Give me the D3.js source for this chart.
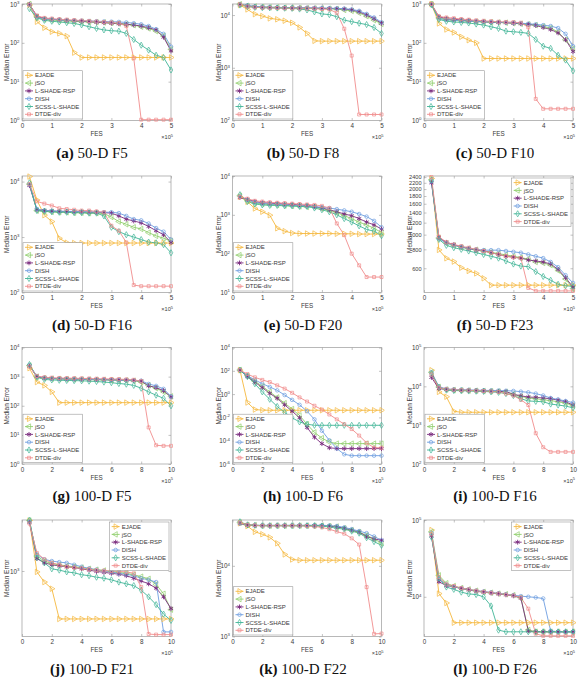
<!DOCTYPE html>
<html><head><meta charset="utf-8">
<script src="https://cdn.jsdelivr.net/npm/d3@7"></script>
<style>body{margin:0;background:#fff} svg{display:block}</style>
</head><body>
<svg id="c" width="578" height="680"></svg>
<script>
// ---------------- data ----------------
const methods = ["EJADE","jSO","L-SHADE-RSP","DISH","SCSS-L-SHADE","DTDE-div"];
const colors  = ["#f5b83d","#8fce6c","#7b2c7f","#6d9de0","#40b496","#f08c8c"];
const fes50  = [0.25,0.5,0.75,1,1.25,1.5,1.75,2,2.25,2.5,2.75,3,3.25,3.5,3.75,4,4.25,4.5,4.75,5];
const fes100 = [0.5,1,1.5,2,2.5,3,3.5,4,4.5,5,5.5,6,6.5,7,7.5,8,8.5,9,9.5,10];
const xTicks50  = [0,1,2,3,4,5];
const xTicks100 = [0,2,4,6,8,10];
const captions = ["50-D F5","50-D F8","50-D F10","50-D F16","50-D F20","50-D F23",
                  "100-D F5","100-D F6","100-D F16","100-D F21","100-D F22","100-D F26"];
const letters = ["a","b","c","d","e","f","g","h","i","j","k","l"];

// series order: EJADE, jSO, L-SHADE-RSP, DISH, SCSS-L-SHADE, DTDE-div
const D50_F5 = [
 [940,350,244,193,175,149,56,42,42,42,42,42,42,42,42,42,42,42,42,42],
 [1000,470,400,385,375,365,355,350,345,340,335,325,315,300,285,260,235,200,150,68],
 [980,490,420,405,395,380,370,360,350,340,330,320,310,300,290,270,245,215,140,62],
 [960,450,410,400,390,380,375,370,365,360,355,350,345,335,320,300,270,225,170,80],
 [760,440,380,360,345,330,315,290,260,235,215,205,200,175,122,87,65,48,42,20],
 [950,500,440,420,405,395,385,375,365,355,345,335,320,270,40,1.05,1.05,1.05,1.05,1.05]
];
const D50_F8 = [
 [15500,12800,10400,9560,8650,8300,7800,7140,5830,4480,3240,3200,3200,3200,3200,3200,3200,3200,3200,3200],
 [16000,15000,14500,14200,14000,14000,13800,13700,13600,13500,13400,13300,13200,13000,12500,12000,11000,9500,8000,6800],
 [15800,14800,14300,14000,13900,13800,13700,13600,13600,13500,13500,13400,13300,13200,13000,12500,11500,10000,8500,7000],
 [16000,15200,14600,14300,14100,14000,13900,13800,13700,13700,13600,13600,13500,13400,13200,12800,12000,10500,9000,7300],
 [15500,14500,14000,13800,13700,13600,13500,13400,13000,12500,11500,10500,10200,9300,8000,7500,7000,6600,5800,4480],
 [16000,14500,14000,13800,13700,13600,13500,13400,13400,13300,13200,13000,12800,11000,5500,1700,130,130,130,130]
];
const D50_F10 = [
 [1000,316,221,185,143,117,100,39.5,39.5,39.5,39.5,39.5,39.5,39.5,39.5,39.5,39.5,39.5,39.5,39.5],
 [1000,440,400,380,370,360,350,345,340,335,330,320,310,300,285,265,240,190,120,70],
 [990,470,420,400,390,375,360,350,340,335,330,320,310,300,280,250,220,180,120,60],
 [980,420,390,380,370,360,355,350,345,340,335,330,320,310,300,285,270,240,170,82],
 [950,400,360,345,335,325,305,287,259,235,200,193,186,175,122,82,72,48,36,19],
 [1000,480,450,430,410,395,380,370,360,350,345,340,330,250,3.6,2,2,2,2,2]
];
const D50_F16 = [
 [12300,4640,2480,1900,950,790,780,780,780,780,780,780,780,780,780,780,780,780,780,780],
 [9000,3000,2900,2850,2800,2800,2750,2750,2700,2700,2650,2300,1900,1700,1500,1400,1200,1050,950,850],
 [8500,3100,3000,2950,2900,2900,2850,2850,2800,2800,2750,2700,2400,2100,1950,1800,1550,1300,1100,800],
 [8800,3200,3000,2950,2900,2900,2900,2850,2850,2800,2800,2800,2700,2400,2100,2000,1750,1450,1250,900],
 [9500,3000,2900,2850,2800,2800,2750,2750,2700,2700,2400,1500,1250,1100,1000,900,810,785,730,520],
 [9000,4400,4000,3700,3300,3200,3100,3000,3000,2900,2800,1600,1300,800,136,130,130,130,130,130]
];
const D50_F20 = [
 [2920,2170,1460,1200,980,450,380,340,330,330,330,330,330,325,325,325,320,320,320,320],
 [3100,2300,2000,1900,1850,1800,1750,1700,1650,1600,1600,1450,1300,1150,950,800,650,550,450,350],
 [2800,2500,2200,2050,2000,1950,1900,1850,1800,1750,1650,1500,1350,1200,1050,950,800,650,550,430],
 [3000,2400,2100,1950,1900,1850,1800,1750,1700,1650,1600,1550,1500,1400,1300,1200,1050,900,700,480],
 [3300,2200,1900,1800,1750,1750,1700,1700,1650,1650,1500,1350,1200,1000,800,650,520,420,380,290],
 [2900,2600,2300,2200,2100,2050,2000,1950,1900,1850,1800,1700,1500,600,300,100,50,25,25,25]
];
const D50_F23 = [
 [2350,793,698,664,605,576,555,515,464,464,464,464,464,464,464,464,464,464,464,464],
 [2300,950,880,850,825,810,795,780,765,750,735,720,705,690,660,650,630,580,510,440],
 [2200,960,890,860,830,810,790,780,760,740,720,710,700,680,670,660,640,590,520,450],
 [2250,940,880,850,830,810,800,790,790,790,780,770,760,740,720,700,660,610,540,480],
 [2300,930,850,820,800,780,760,740,720,700,670,640,620,615,570,530,500,470,460,455],
 [2400,970,890,860,840,820,800,780,760,740,720,710,700,445,425,425,425,425,425,425]
];
const D100_F5 = [
 [1950,650,500,300,128,128,128,128,128,128,128,128,128,128,128,128,128,128,128,128],
 [2400,1000,880,850,830,820,810,800,790,780,770,760,750,740,720,650,500,400,300,210],
 [2300,1000,900,870,850,840,830,820,810,800,790,780,770,760,740,700,480,420,330,200],
 [2500,1050,900,860,840,830,820,810,800,790,780,770,760,750,740,720,560,480,380,210],
 [2600,950,800,770,750,740,730,720,700,680,650,620,580,550,500,400,300,230,180,100],
 [2200,1050,950,920,900,890,880,870,860,850,840,830,820,800,780,700,18,4.4,4.2,4.2]
];
const D100_F6 = [
 [115,0.19,0.047,0.042,0.041,0.041,0.041,0.041,0.041,0.041,0.041,0.041,0.041,0.041,0.041,0.041,0.041,0.041,0.041,0.041],
 [115,38,12.9,4.7,1.55,0.52,0.166,0.052,0.0148,0.0026,5.2e-4,1.66e-4,7.8e-5,5.6e-5,5.6e-5,5.6e-5,5.6e-5,5.6e-5,5.6e-5,5.6e-5],
 [115,31.6,10.7,3.6,1.15,0.44,0.12,0.034,0.0093,0.00138,2.0e-4,5.6e-5,2.5e-5,2.1e-5,2.1e-5,2.1e-5,2.1e-5,2.1e-5,2.1e-5,2.1e-5],
 [115,38,16.6,7.8,4.1,2.1,0.83,0.32,0.12,0.034,0.0068,7.2e-4,1.07e-4,2.1e-5,6.8e-6,5.2e-6,5.2e-6,5.2e-6,5.2e-6,5.2e-6],
 [115,31.6,7.8,1.55,0.36,0.087,0.0275,0.0093,0.0041,0.0026,0.0021,0.0021,0.0021,0.0021,0.0021,0.0021,0.0021,0.0021,0.0021,0.0021],
 [115,52.5,27.5,16.6,10.7,5.6,2.95,1.29,0.52,0.23,0.1,0.047,0.0178,0.0068,0.0026,0.001,2.75e-4,6.5e-5,2.5e-5,2.5e-5]
];
const D100_F16 = [
 [26000,7200,5400,2270,2150,2150,2150,2150,2150,2150,2150,2150,2150,2150,2150,2150,2150,2150,2150,2150],
 [23000,9600,8300,8000,7900,7800,7700,7600,7500,7400,7200,6300,5500,5000,4800,4500,4300,4000,3700,3200],
 [17000,8700,8300,8000,7900,7800,7700,7600,7500,7400,7300,6200,5700,5300,5200,5000,4800,4400,4000,3300],
 [23000,9800,8600,8300,8200,8100,8000,7900,7800,7800,7700,7600,7300,7000,6500,5800,5000,4600,4200,3800],
 [21000,9500,8000,7800,7700,7600,7500,7400,7200,7000,6500,5800,4800,4200,4100,4000,3500,3300,3100,2800],
 [20000,9300,8500,8200,8000,7900,7800,7600,7400,7200,6500,5800,4500,3300,620,270,205,205,205,205]
];
const D100_F21 = [
 [3100,980,780,672,341,341,341,341,341,341,341,341,341,341,341,341,341,341,341,341],
 [3100,1400,1250,1180,1150,1120,1100,1080,1050,1030,1010,990,970,950,920,880,840,740,600,420],
 [3000,1320,1200,1150,1120,1100,1080,1050,1020,990,970,950,930,900,850,800,750,680,560,430],
 [3000,1450,1300,1250,1220,1200,1150,1100,1060,1030,1000,980,950,930,900,850,820,780,255,255],
 [3140,1350,1200,1050,1020,980,960,920,900,870,850,820,780,750,720,650,560,470,380,330],
 [2900,1500,1300,1200,1150,1100,1080,1060,1040,1020,1010,1000,990,980,950,700,243,240,240,240]
];
const D100_F22 = [
 [40000,36500,30300,28000,25300,20800,14500,12300,12000,12000,12000,12000,12000,12000,12000,12000,12000,12000,12000,12000],
 [41000,38000,37500,37000,37000,37000,37000,37000,37000,37000,37000,37000,36500,36000,34000,32000,30000,27000,24000,21000],
 [40000,37500,37000,37000,37000,37000,37000,37000,37000,37000,37000,37000,36500,35500,34000,32000,30000,26000,24000,23000],
 [40000,38000,37500,37500,37500,37500,37500,37500,37500,37500,37500,37500,37000,36500,35000,33000,31000,29000,26000,23000],
 [42000,38000,37500,37000,37000,37000,37000,37000,37000,37000,37000,36500,35500,34000,33000,31000,29000,25000,22000,19500],
 [41000,38000,37500,37000,37000,37000,37000,37000,37000,36500,36000,35000,33000,30500,28500,24500,20000,5000,1090,1100]
];
const D100_F26 = [
 [74000,11000,8300,4600,4600,4600,4600,4600,4600,4600,4600,4600,4600,4600,4600,4600,4600,4600,4600,4600],
 [70000,19000,15000,13800,13000,12500,12000,11600,11300,11000,10800,10500,9700,3700,3500,3500,3500,3500,3500,3500],
 [62000,15700,14000,13500,12800,12300,11800,11500,11200,10900,10600,10300,9600,3600,3500,3500,3500,3500,3500,3500],
 [68000,17000,14500,13500,13000,12500,12000,11700,11400,11100,10800,10500,10200,10000,9800,9500,3600,3500,3500,3500],
 [60000,17500,13400,12500,11500,10900,10700,10000,7600,3680,3500,3500,3500,3500,3500,3500,3500,3500,3500,3500],
 [65000,18000,14500,13800,13000,12500,12000,11600,11300,11000,10700,10400,9800,7000,3300,3100,3100,3100,3100,3100]
];
const yTicksF23 = [600,800,1000,1200,1400,1600,1800,2000,2200,2400];

// ---------------- panel setup ----------------
const panels = [
 {d:D50_F5,  fes:fes50,  xt:xTicks50,  xmax:5,  yd:[1,1000],      yt:[1,10,100,1000], leg:"ll"},
 {d:D50_F8,  fes:fes50,  xt:xTicks50,  xmax:5,  yd:[100,16200],   yt:[100,1000,10000], leg:"ll"},
 {d:D50_F10, fes:fes50,  xt:xTicks50,  xmax:5,  yd:[1,1000],      yt:[1,10,100,1000], leg:"ll"},
 {d:D50_F16, fes:fes50,  xt:xTicks50,  xmax:5,  yd:[100,12600],   yt:[100,1000,10000], leg:"ll"},
 {d:D50_F20, fes:fes50,  xt:xTicks50,  xmax:5,  yd:[10,10000],    yt:[10,100,1000,10000], leg:"ll"},
 {d:D50_F23, fes:fes50,  xt:xTicks50,  xmax:5,  yd:[415,2440],    yt:yTicksF23, plain:true, leg:"ur"},
 {d:D100_F5, fes:fes100, xt:xTicks100, xmax:10, yd:[1,10000],     yt:[1,10,100,1000,10000], leg:"ll"},
 {d:D100_F6, fes:fes100, xt:xTicks100, xmax:10, yd:[1e-6,1e4],    yt:[1e-6,1e-4,1e-2,1,1e2,1e4], leg:"ll"},
 {d:D100_F16,fes:fes100, xt:xTicks100, xmax:10, yd:[100,1e5],     yt:[1e2,1e3,1e4,1e5], leg:"ll"},
 {d:D100_F21,fes:fes100, xt:xTicks100, xmax:10, yd:[230,3140],    yt:[1000], leg:"ur"},
 {d:D100_F22,fes:fes100, xt:xTicks100, xmax:10, yd:[1000,44500],  yt:[1e3,1e4], leg:"ll"},
 {d:D100_F26,fes:fes100, xt:xTicks100, xmax:10, yd:[3040,1e5],    yt:[1e4,1e5], leg:"ur"}
];

const colLeft = [22, 232.5, 424];
const rowTop  = [4, 176, 347.5, 520];
const PW = 149, PH = 116.5;
const yLabX = [6.5, 219, 409.5];
const capX = [92, 303, 495];

const SANS = "Liberation Sans, Arial, sans-serif";
const AX = "#9a9a9a";
const TXT = "#3a3a3a";

const svg = d3.select("#c");
const defs = svg.append("defs");

function markerPath(k, size) {
  const types = [d3.symbolTriangle, d3.symbolTriangle, d3.symbolAsterisk, d3.symbolCircle, d3.symbolDiamond, d3.symbolSquare];
  const sizes = [13, 13, 16, 10, 11, 9];
  return d3.symbol(types[k], sizes[k] * (size || 1))();
}
const markerRot = [90, -90, 0, 0, 0, 0];

function drawMarker(g, k, cx, cy) {
  g.append("path")
    .attr("d", markerPath(k))
    .attr("transform", `translate(${cx},${cy}) rotate(${markerRot[k]})`)
    .attr("fill", "none")
    .attr("stroke", colors[k])
    .attr("stroke-width", k === 2 ? 0.9 : 0.7);
}

panels.forEach((p, i) => {
  const col = i % 3, row = Math.floor(i / 3);
  const L = colLeft[col], T = rowTop[row];
  const x = d3.scaleLinear().domain([0, p.xmax]).range([L, L + PW]);
  const y = d3.scaleLog().domain(p.yd).range([T + PH, T]);
  const g = svg.append("g");

  const cid = "clip" + i;
  defs.append("clipPath").attr("id", cid).append("rect")
    .attr("x", L - 3).attr("y", T - 3).attr("width", PW + 6).attr("height", PH + 6);

  g.append("rect").attr("x", L).attr("y", T).attr("width", PW).attr("height", PH)
    .attr("fill", "#fff").attr("stroke", "none");

  // axes
  const styleAxis = sel => {
    sel.select(".domain").remove();
    sel.selectAll(".tick line").attr("stroke", AX).attr("stroke-width", 0.6);
    sel.selectAll(".tick text").attr("fill", TXT).attr("font-family", SANS).attr("font-size", 6.3);
  };
  g.append("g").attr("transform", `translate(0,${T + PH})`)
    .call(d3.axisBottom(x).tickValues(p.xt).tickSize(-2.5).tickPadding(3.2).tickFormat(d3.format("d")))
    .call(styleAxis);
  g.append("g").attr("transform", `translate(0,${T})`)
    .call(d3.axisTop(x).tickValues(p.xt).tickSize(-2.5).tickFormat(""))
    .call(styleAxis);
  const yl = g.append("g").attr("transform", `translate(${L},0)`)
    .call(d3.axisLeft(y).tickValues(p.yt).tickSize(-2.5).tickPadding(2.5)
      .tickFormat(p.plain ? d3.format("d") : ""))
    .call(styleAxis);
  if (p.plain) yl.selectAll(".tick text").attr("font-size", 5.6);
  g.append("g").attr("transform", `translate(${L + PW},0)`)
    .call(d3.axisRight(y).tickValues(p.yt).tickSize(-2.5).tickFormat(""))
    .call(styleAxis);
  if (!p.plain) {
    yl.selectAll(".tick text").each(function (d) {
      const t = d3.select(this);
      t.text(null);
      t.append("tspan").text("10");
      t.append("tspan").attr("dy", -2.6).attr("font-size", 4.3).text(Math.round(Math.log10(d)));
    });
  }
  g.append("rect").attr("x", L).attr("y", T).attr("width", PW).attr("height", PH)
    .attr("fill", "none").attr("stroke", AX).attr("stroke-width", 0.7);

  // labels
  g.append("text").attr("x", x(p.xmax / 2)).attr("y", T + PH + 15.5)
    .attr("text-anchor", "middle").attr("font-family", SANS).attr("font-size", 6.3)
    .attr("fill", TXT).text("FES");
  const ex = g.append("text").attr("x", L + PW + 2).attr("y", T + PH + 18.5)
    .attr("text-anchor", "end").attr("font-family", SANS).attr("font-size", 5.6).attr("fill", TXT);
  ex.append("tspan").text("×10");
  ex.append("tspan").attr("dy", -2.4).attr("font-size", 4).text("5");
  g.append("text")
    .attr("transform", `translate(${yLabX[col]},${T + PH / 2}) rotate(-90)`)
    .attr("text-anchor", "middle").attr("dy", "0.35em")
    .attr("font-family", SANS).attr("font-size", 6.5).attr("fill", TXT).text("Median Error");

  // series
  const plot = g.append("g").attr("clip-path", `url(#${cid})`);
  const line = d3.line().x((d, j) => x(p.fes[j])).y(d => y(d));
  p.d.forEach((s, k) => {
    plot.append("path").datum(s).attr("d", line)
      .attr("fill", "none").attr("stroke", colors[k]).attr("stroke-width", 0.9);
  });
  p.d.forEach((s, k) => {
    s.forEach((v, j) => drawMarker(plot, k, x(p.fes[j]), y(v)));
  });

  // legend
  const rowH = 7.8;
  const lg = g.append("g");
  const texts = [];
  const tmp = lg.append("g");
  methods.forEach(m => {
    const t = tmp.append("text").attr("font-family", SANS).attr("font-size", 6).text(m);
    texts.push(t.node().getComputedTextLength());
  });
  tmp.remove();
  const boxW = 12.5 + d3.max(texts) + 2.5;
  const boxH = rowH * 6 + 1.5;
  const bx = p.leg === "ll" ? L + 1 : L + PW - boxW - 2;
  const by = p.leg === "ll" ? T + PH - boxH - 1.5 : T + 2;
  lg.append("rect").attr("x", bx).attr("y", by).attr("width", boxW).attr("height", boxH)
    .attr("fill", "#fff").attr("stroke", AX).attr("stroke-width", 0.6);
  methods.forEach((m, k) => {
    const cy = by + 4.6 + k * rowH;
    lg.append("line").attr("x1", bx + 2).attr("x2", bx + 10).attr("y1", cy).attr("y2", cy)
      .attr("stroke", colors[k]).attr("stroke-width", 0.9);
    drawMarker(lg, k, bx + 6, cy);
    lg.append("text").attr("x", bx + 12).attr("y", cy).attr("dy", "0.35em")
      .attr("font-family", SANS).attr("font-size", 6).attr("fill", TXT).text(m);
  });

  // caption
  const cap = svg.append("text").attr("x", capX[col]).attr("y", T + PH + 37)
    .attr("text-anchor", "middle").attr("font-family", "Liberation Serif, serif")
    .attr("font-size", 15).attr("fill", "#111");
  cap.append("tspan").attr("font-weight", "bold").text("(" + letters[i] + ")");
  cap.append("tspan").text(" " + captions[i]);
});
</script>
</body></html>
